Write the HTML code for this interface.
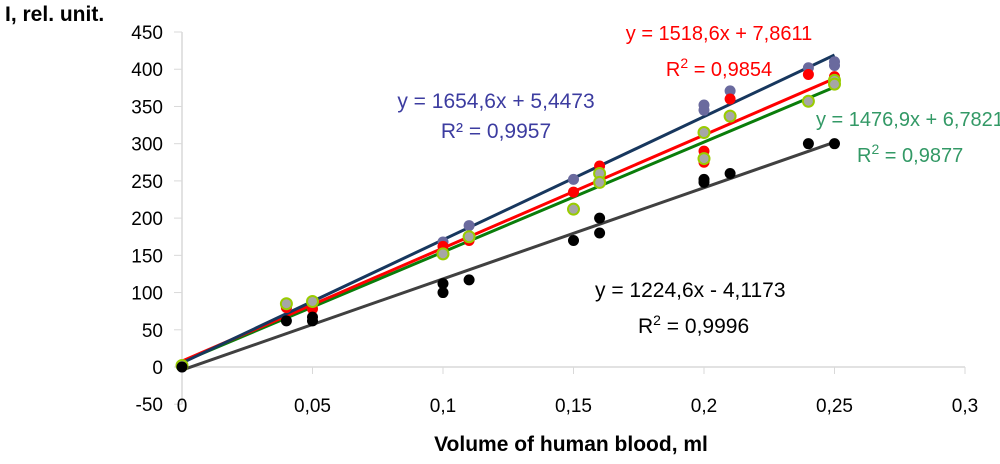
<!DOCTYPE html>
<html><head><meta charset="utf-8"><style>
body{margin:0;background:#fff;}
svg{display:block;font-family:"Liberation Sans",sans-serif;}
</style></head><body>
<svg id="chart" width="1000" height="464">
<text x="5" y="21" font-size="21" font-weight="bold" fill="#000">I, rel. unit.</text>
<text x="571" y="451" font-size="21" font-weight="bold" text-anchor="middle" fill="#000">Volume of human blood, ml</text>
<g id="axes"></g>
<g id="lines"></g>
<g id="points"></g>
<text x="496" y="108" font-size="21" text-anchor="middle" fill="#3c3ca0">y = 1654,6x + 5,4473</text>
<text x="496" y="138" font-size="21" text-anchor="middle" fill="#3c3ca0">R² = 0,9957</text>
<text x="719" y="40" font-size="20" text-anchor="middle" fill="#ff0000">y = 1518,6x + 7,8611</text>
<text x="719" y="76" font-size="20" text-anchor="middle" fill="#ff0000">R<tspan dy="-8" font-size="14">2</tspan><tspan dy="8"> = 0,9854</tspan></text>
<text x="816" y="126" font-size="20" fill="#339966">y = 1476,9x + 6,7821</text>
<text x="857" y="162" font-size="20" fill="#339966">R<tspan dy="-8" font-size="14">2</tspan><tspan dy="8"> = 0,9877</tspan></text>
<text x="595" y="297" font-size="21" fill="#000">y = 1224,6x - 4,1173</text>
<text x="638" y="333" font-size="21" fill="#000">R<tspan dy="-8" font-size="14">2</tspan><tspan dy="8"> = 0,9996</tspan></text>
</svg>
<script>
const yTicks=[-50,0,50,100,150,200,250,300,350,400,450];
const xTicks=[0,0.05,0.1,0.15,0.2,0.25,0.3];
const xTickLabels=["0","0,05","0,1","0,15","0,2","0,25","0,3"];
const blueX=[0,0.04,0.05,0.1,0.11,0.15,0.16,0.2,0.2,0.21,0.24,0.25,0.25];
const blueY=[0,80,85,168,190,252,262,345,352,371,402,405,410];
const redX=[0,0.04,0.05,0.1,0.11,0.15,0.16,0.2,0.2,0.21,0.24,0.25];
const redY=[2,80,78,162,170,235,270,275,290,360,393,390];
const greenX=[0,0.04,0.05,0.1,0.11,0.15,0.16,0.16,0.2,0.2,0.21,0.24,0.25,0.25];
const greenY=[2,85,88,152,175,212,260,248,315,280,337,357,385,380];
const blackX=[0,0.04,0.05,0.05,0.1,0.1,0.11,0.15,0.16,0.16,0.2,0.2,0.21,0.24,0.25];
const blackY=[0,62,67,62,112,100,117,170,200,180,252,248,260,300,300];
const slopes=[1224.6,1476.9,1518.6,1654.6];
const intercepts=[-4.1173,6.7821,7.8611,5.4473];
const lineColors=["#404040","#0a7d0a","#ff0000","#17375e"];
const lineNames=["black-trendline","green-trendline","red-trendline","blue-trendline"];
const NS="http://www.w3.org/2000/svg";
const xs=v=>182+v*2610;
const ys=v=>367-v*0.7444;
function mk(tag,attrs,parent){const e=document.createElementNS(NS,tag);for(const k in attrs)e.setAttribute(k,attrs[k]);parent.appendChild(e);return e;}
const axes=document.getElementById('axes');
let a=mk('line',{x1:182,y1:ys(450),x2:182,y2:ys(-50),stroke:'#d9d9d9','stroke-width':1.5},axes);


a=mk('line',{x1:182,y1:367,x2:xs(0.3),y2:367,stroke:'#d9d9d9','stroke-width':1.5},axes);


yTicks.forEach(t=>{
  mk('line',{x1:174,y1:ys(t),x2:182,y2:ys(t),stroke:'#d9d9d9'},axes);
  const tx=mk('text',{x:163,y:ys(t)+7,'font-size':19,'text-anchor':'end',fill:'#000'},axes);
  tx.textContent=String(t);
  
  
});
xTicks.forEach((t,i)=>{
  mk('line',{x1:xs(t),y1:367,x2:xs(t),y2:374,stroke:'#d9d9d9'},axes);
  const tx=mk('text',{x:xs(t),y:412,'font-size':19,'text-anchor':'middle',fill:'#000'},axes);
  tx.textContent=xTickLabels[i];
  
  
});
const pts=document.getElementById('points');
function series(X,Y,fill,stroke,name){
  X.forEach((x,i)=>{
    const c=mk('circle',{cx:xs(x),cy:ys(Y[i]),r:5.5,fill:fill,stroke:stroke,'stroke-width':stroke==='none'?0:2},pts);
    
    
  });
}
series(blueX,blueY,'#6a6a9e','none','blue-point');
series(redX,redY,'#ff0000','none','red-point');
series(greenX,greenY,'#a6a6a6','#99cc00','green-point');
series(blackX,blackY,'#000','none','black-point');
const lg=document.getElementById('lines');
slopes.forEach((m,i)=>{
  const l=mk('line',{x1:xs(0),y1:ys(intercepts[i]),x2:xs(0.25),y2:ys(m*0.25+intercepts[i]),stroke:lineColors[i],'stroke-width':3},lg);
  
  
});
</script>
</body></html>
